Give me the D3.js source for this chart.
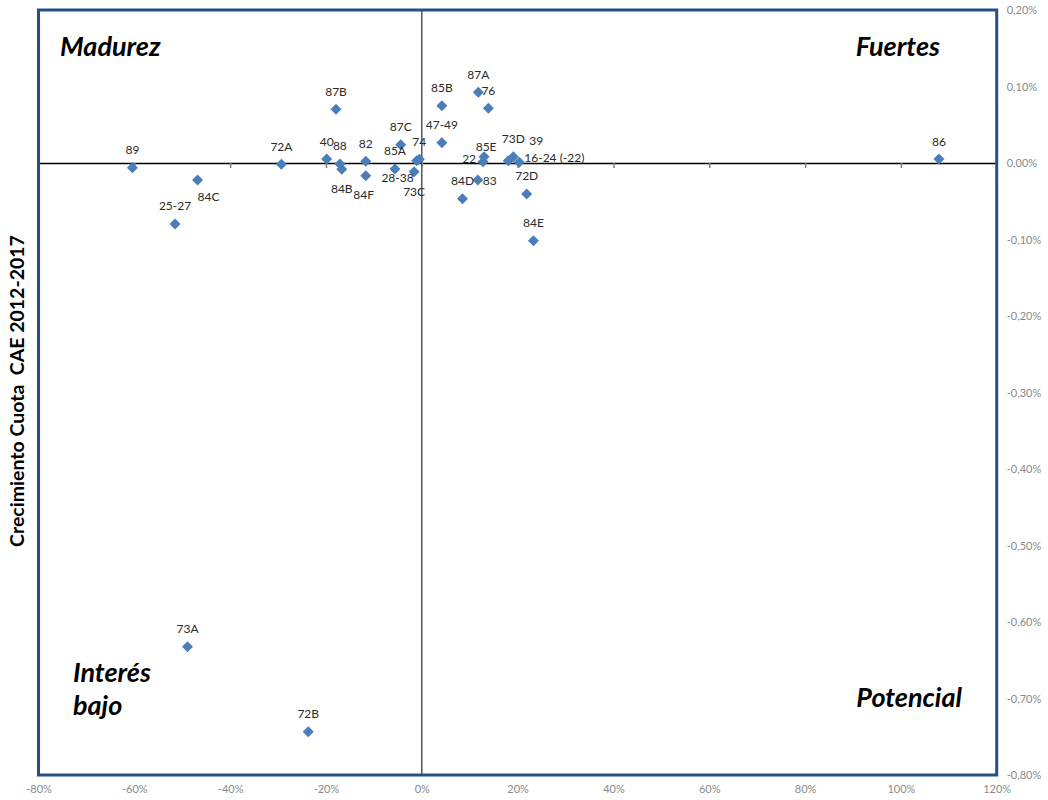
<!DOCTYPE html>
<html><head><meta charset="utf-8">
<script src="https://cdn.jsdelivr.net/npm/d3@7/dist/d3.min.js"></script>
<style>
body{margin:0;background:#fff;}
svg{display:block;font-family:Lato,"Open Sans",sans-serif;}
</style></head>
<body><svg id="c" width="1048" height="800"></svg>
<script>
// ---- data ----
const labels = ["89","84C","25-27","72A","87B","40","88","84B","82","84F","87C","85A","73C","28-38","74","85B","47-49","87A","76","85E","22","84D","83","73D","39","16-24 (-22)","72D","84E","86","73A","72B"];
const xValues = [-60.4,-46.8,-51.5,-29.3,-17.9,-19.85,-17.1,-16.7,-11.7,-11.7,-4.4,-5.6,-1.6,-1.06,-0.52,4.2,4.2,11.8,13.9,12.8,13.0,8.5,11.7,19.1,18.05,20.35,21.9,23.3,107.95,-48.9,-23.7];
const yValues = [-0.0061,-0.0222,-0.0797,-0.0017,0.0702,0.0052,-0.0013,-0.0082,0.0022,-0.0166,0.0239,-0.0078,-0.0114,0.0030,0.0048,0.0749,0.0265,0.0925,0.0715,0.0017,0.0082,-0.0467,-0.0222,0.0082,0.0030,0.0009,-0.0405,-0.1016,0.0052,-0.6323,-0.7434];
const xTicks = [-80,-60,-40,-20,0,20,40,60,80,100,120];
const yTicks = [0.2,0.1,0,-0.1,-0.2,-0.3,-0.4,-0.5,-0.6,-0.7,-0.8];
const quadrants = [["Madurez"],["Fuertes"],["Interés","bajo"],["Potencial"]];
const yTitle = "Crecimiento Cuota\u00a0\u00a0CAE 2012-2017";

// ---- layout (label placement relative to marker) ----
const labelOffset = {
  "84C":[0,17,"start"], "84B":[0,19,"middle"], "84F":[-2,19,"middle"],
  "28-38":[-3,17,"end"], "73C":[0,19.5,"middle"], "85E":[3,-15,"middle"],
  "22":[-8,1.5,"end"], "83":[5,0.5,"start"], "39":[21,-20,"start"],
  "16-24 (-22)":[5,-5,"start"]
};

const svg = d3.select("#c");
const L=38.5, R=996.7, T=10, B=775;
const x = d3.scaleLinear().domain([-80,120]).range([L,R]);
const y = d3.scaleLinear().domain([-0.8,0.2]).range([B,T]);
const loc = d3.formatLocale({decimal:",",thousands:".",grouping:[3],currency:["","€"],minus:"-"});
const fx = d=>loc.format(".0f")(d)+"%";
const fy = d=>loc.format(".2f")(d)+"%";

// zero axes
svg.append("line").attr("x1",x(0)).attr("x2",x(0)).attr("y1",T).attr("y2",B)
  .attr("stroke","#4a4a4a").attr("stroke-width",1.4);
const hx = svg.append("g").attr("transform",`translate(0,${y(0)})`)
  .call(d3.axisBottom(x).tickValues(xTicks).tickSize(5).tickFormat(""));
hx.select(".domain").attr("stroke","#000").attr("stroke-width",1.3);
hx.selectAll(".tick line").attr("stroke","#7f7f7f").attr("stroke-width",1.5);

// frame
svg.append("rect").attr("x",L).attr("y",T).attr("width",R-L).attr("height",B-T)
  .attr("fill","none").attr("stroke","#24508a").attr("stroke-width",3);

// tick labels
const ax = svg.append("g").attr("transform",`translate(0,${B})`)
  .call(d3.axisBottom(x).tickValues(xTicks).tickSize(0).tickPadding(10).tickFormat(fx));
ax.select(".domain").remove();
const ay = svg.append("g").attr("transform",`translate(${R},0)`)
  .call(d3.axisRight(y).tickValues(yTicks).tickSize(0).tickPadding(10).tickFormat(fy));
ay.select(".domain").remove();
[ax,ay].forEach(g=>g.selectAll("text").attr("fill","#8a8a8a").attr("font-size",11).attr("font-family","Lato,sans-serif"));

// y title
svg.append("text").attr("transform","translate(24,391) rotate(-90)")
  .attr("text-anchor","middle").attr("font-weight","bold").attr("font-size",19.5)
  .attr("fill","#000").text(yTitle);

// quadrant labels
const qpos = [[60,56,"start"],[940,56,"end"],[73,682,"start"],[962,707,"end"]];
quadrants.forEach((lines,i)=>{
  const t = svg.append("text").attr("x",qpos[i][0]).attr("y",qpos[i][1])
    .attr("text-anchor",qpos[i][2]).attr("font-weight","bold").attr("font-style","italic")
    .attr("font-size",27).attr("fill","#000");
  lines.forEach((s,j)=>t.append("tspan").attr("x",qpos[i][0]).attr("dy",j?33:0).text(s));
});

// points
const data = labels.map((l,i)=>({l, x:xValues[i], y:yValues[i]}));
const dia = "M0,-5.5L5.5,0L0,5.5L-5.5,0Z";
svg.append("g").selectAll("path").data(data).join("path")
  .attr("d",dia).attr("transform",d=>`translate(${x(d.x)},${y(d.y)})`)
  .attr("fill","#4a7ebb");
svg.append("g").selectAll("text").data(data).join("text")
  .attr("x",d=>x(d.x)+(labelOffset[d.l]?labelOffset[d.l][0]:0))
  .attr("y",d=>y(d.y)+(labelOffset[d.l]?labelOffset[d.l][1]:-18))
  .attr("text-anchor",d=>labelOffset[d.l]?labelOffset[d.l][2]:"middle")
  .attr("dominant-baseline","central")
  .attr("font-size",12).attr("fill","#2a2a2a").text(d=>d.l);
</script></body></html>
